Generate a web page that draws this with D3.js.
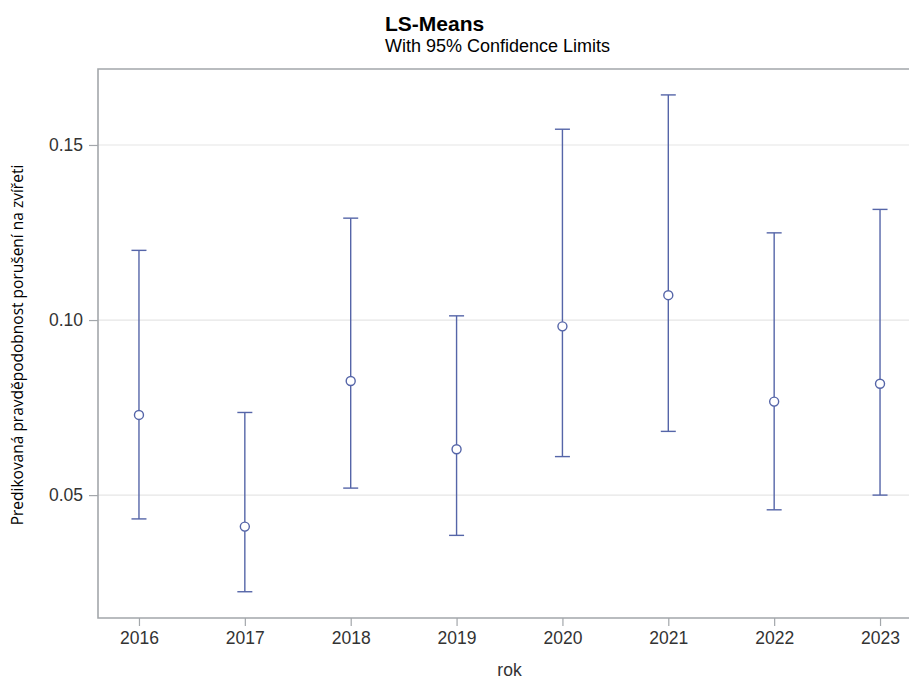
<!DOCTYPE html>
<html>
<head>
<meta charset="utf-8">
<style>
  body { margin: 0; background: #fff; }
  text { font-family: "Liberation Sans", Arial, sans-serif; }
</style>
</head>
<body>
<script src="https://cdn.jsdelivr.net/npm/d3@7"></script>
<script>
// LS-means with 95% confidence limits
var years = ['2016', '2017', '2018', '2019', '2020', '2021', '2022', '2023'];
var means = [0.0729, 0.0410, 0.0826, 0.0631, 0.0982, 0.1071, 0.0767, 0.0818];
var lower = [0.0432, 0.0224, 0.0520, 0.0385, 0.0610, 0.0682, 0.0458, 0.0500];
var upper = [0.1199, 0.0736, 0.1291, 0.1012, 0.1545, 0.1643, 0.1249, 0.1316];
var yTicks = [0.05, 0.10, 0.15];

var width = 909, height = 680;
var plotLeft = 98, plotRight = 921, plotTop = 69, plotBottom = 618;
var color = '#5565a8';

var svg = d3.select('body').append('svg')
    .attr('width', width).attr('height', height);

var x = d3.scalePoint().domain(years).range([plotLeft, plotRight]).padding(0.387);
var y = d3.scaleLinear().domain([0.0149, 0.1717]).range([plotBottom, plotTop]);

// grid
svg.append('g').selectAll('line').data(yTicks).enter().append('line')
    .attr('x1', plotLeft).attr('x2', plotRight)
    .attr('y1', function (d) { return y(d); })
    .attr('y2', function (d) { return y(d); })
    .attr('stroke', '#e6e6e6').attr('stroke-width', 1.2);

// frame
svg.append('path')
    .attr('d', 'M' + plotRight + ',' + plotTop + 'H' + plotLeft + 'V' + plotBottom + 'H' + plotRight)
    .attr('fill', 'none').attr('stroke', '#a3a7ab').attr('stroke-width', 1.6);

// axes
var xAxis = svg.append('g').attr('transform', 'translate(0,' + plotBottom + ')')
    .call(d3.axisBottom(x).tickSize(8).tickPadding(6));
var yAxis = svg.append('g').attr('transform', 'translate(' + plotLeft + ',0)')
    .call(d3.axisLeft(y).tickValues(yTicks).tickFormat(d3.format('.2f')).tickSize(9).tickPadding(6));
[xAxis, yAxis].forEach(function (g) {
    g.select('.domain').remove();
    g.selectAll('line').attr('stroke', '#a3a7ab').attr('stroke-width', 1.2);
    g.selectAll('text').attr('fill', '#333').style('font-size', '17.5px')
        .style('font-family', '"Liberation Sans", Arial, sans-serif');
});

// error bars
var data = years.map(function (yr, i) {
    return { year: yr, mean: means[i], lo: lower[i], hi: upper[i] };
});
var bars = svg.append('g').selectAll('g').data(data).enter().append('g')
    .attr('stroke', color).attr('stroke-width', 1.4).attr('fill', 'none');
bars.append('line')
    .attr('x1', function (d) { return x(d.year); })
    .attr('x2', function (d) { return x(d.year); })
    .attr('y1', function (d) { return y(d.lo); })
    .attr('y2', function (d) { return y(d.hi); });
bars.append('line')
    .attr('x1', function (d) { return x(d.year) - 7.5; })
    .attr('x2', function (d) { return x(d.year) + 7.5; })
    .attr('y1', function (d) { return y(d.hi); })
    .attr('y2', function (d) { return y(d.hi); });
bars.append('line')
    .attr('x1', function (d) { return x(d.year) - 7.5; })
    .attr('x2', function (d) { return x(d.year) + 7.5; })
    .attr('y1', function (d) { return y(d.lo); })
    .attr('y2', function (d) { return y(d.lo); });
bars.append('circle')
    .attr('cx', function (d) { return x(d.year); })
    .attr('cy', function (d) { return y(d.mean); })
    .attr('r', 4.5).attr('fill', 'white');

// titles
svg.append('text').attr('x', 385).attr('y', 31)
    .style('font-size', '21px').style('font-weight', 'bold').attr('fill', '#000')
    .text('LS-Means');
svg.append('text').attr('x', 385).attr('y', 52)
    .style('font-size', '18px').attr('fill', '#000')
    .text('With 95% Confidence Limits');
svg.append('text').attr('x', (plotLeft + plotRight) / 2).attr('y', 676)
    .attr('text-anchor', 'middle').style('font-size', '17.5px').attr('fill', '#333')
    .text('rok');
svg.append('text')
    .attr('transform', 'translate(23,' + 345 + ') rotate(-90)')
    .attr('text-anchor', 'middle')
    .style('font-family', '"Open Sans", "Noto Sans", sans-serif')
    .style('font-size', '15.5px').attr('fill', '#000')
    .text('Predikovaná pravděpodobnost porušení na zvířeti');
</script>
</body>
</html>
